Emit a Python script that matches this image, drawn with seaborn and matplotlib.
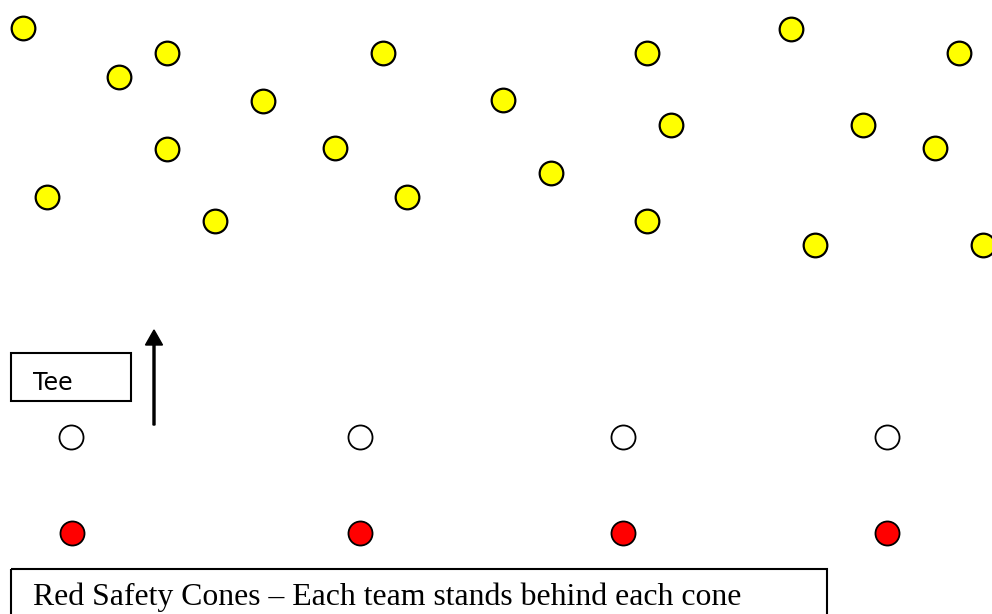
import numpy as np
import pandas as pd
import matplotlib
matplotlib.use("Agg")
import matplotlib.pyplot as plt
from matplotlib.patches import Rectangle
import seaborn as sns

# field positions, in pixels of the drawing (y grows downwards)
ball_x = [23, 119, 167, 263, 167, 47, 215,
          383, 335, 407, 503, 551, 647, 671, 647,
          791, 959, 863, 935, 815, 983]
ball_y = [28, 77, 53, 101, 149, 197, 221,
          53, 148, 197, 100, 173, 53, 125, 221,
          29, 53, 125, 148, 245, 245]

tee_x = [71, 360, 623, 887]
tee_y = [437, 437, 437, 437]

cone_x = [72, 360, 623, 887]
cone_y = [533, 533, 533, 533]

tee_label = "Tee"
caption = "Red Safety Cones \u2013 Each team stands behind each cone"


def draw_field():
    """draw the drill layout"""

    sns.set_style("white")
    fig = plt.figure(figsize=(9.92, 6.14), dpi=100)
    ax = fig.add_axes([0, 0, 1, 1])

    balls = pd.DataFrame({"x": ball_x, "y": ball_y})
    tees = pd.DataFrame({"x": tee_x, "y": tee_y})
    cones = pd.DataFrame({"x": cone_x, "y": cone_y})

    sns.scatterplot(data=balls, x="x", y="y", ax=ax, s=290, color="#ffff00",
                    edgecolor="black", linewidth=1.6, zorder=3)
    sns.scatterplot(data=tees, x="x", y="y", ax=ax, s=300, color="white",
                    edgecolor="black", linewidth=1.3, zorder=3)
    sns.scatterplot(data=cones, x="x", y="y", ax=ax, s=300, color="#ff0000",
                    edgecolor="black", linewidth=1.3, zorder=3)

    # tee box + arrow
    ax.add_patch(Rectangle((11, 353), 120, 48, fill=False, ec="black", lw=1.5))
    ax.text(33, 390, tee_label, fontsize=17, family="DejaVu Sans",
            color="black", va="baseline")
    ax.arrow(154, 425, 0, -95, width=2, head_width=17, head_length=15,
             length_includes_head=True, color="black")

    # caption box at the bottom
    ax.add_patch(Rectangle((11, 569), 816, 80, fill=False, ec="black", lw=1.5,
                           clip_on=True))
    ax.text(33, 605, caption, fontsize=22.9, family="Liberation Serif",
            color="black", va="baseline")

    ax.set_xlim(0, 992)
    ax.set_ylim(614, 0)
    ax.set_axis_off()
    return fig


if __name__ == "__main__":
    fig = draw_field()
    fig.savefig("out.png", dpi=100)
